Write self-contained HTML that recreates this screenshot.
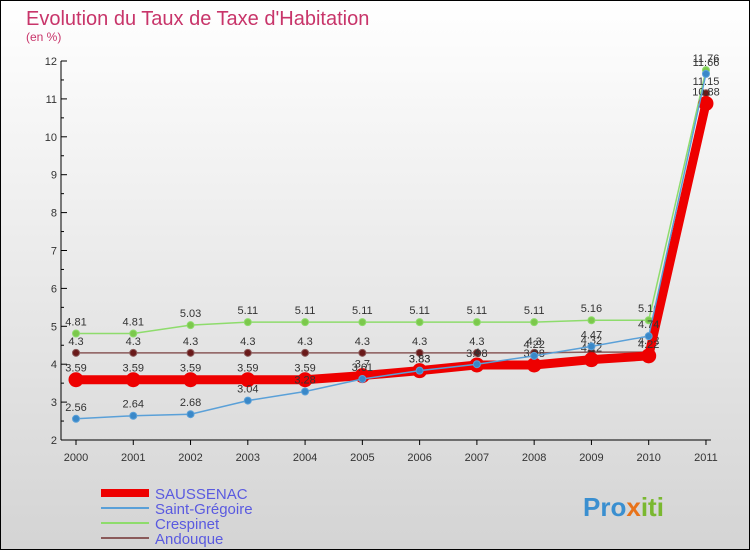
<!DOCTYPE html>
<html><head><meta charset="utf-8"><style>
body{margin:0;width:750px;height:550px;overflow:hidden;font-family:"Liberation Sans",sans-serif}
#wrap{position:relative;width:748px;height:548px;border:1px solid #000;background:linear-gradient(#fff,#d4d4d4)}
</style></head><body>
<div id="wrap">
<svg id="chart" width="748" height="548">
<text x="25" y="24" font-size="20" fill="#c8356a">Evolution du Taux de Taxe d'Habitation</text>
<text x="25" y="40" font-size="12" fill="#c8356a">(en %)</text>
<g id="axes"></g><g id="series"></g><g id="legend"></g>
<text x="582" y="515" font-size="26" font-weight="bold" fill="#3a8fd0">Pro<tspan fill="#e8731a">x</tspan><tspan fill="#7ab830">iti</tspan></text>
</svg></div>
<script>
const years=[2000,2001,2002,2003,2004,2005,2006,2007,2008,2009,2010,2011];
const yTicks=[2,3,4,5,6,7,8,9,10,11,12];
const saussenac=[3.59,3.59,3.59,3.59,3.59,3.7,3.83,3.98,3.98,4.12,4.22,10.88];
const saintGregoire=[2.56,2.64,2.68,3.04,3.28,3.61,3.83,4.0,4.22,4.47,4.74,11.66];
const crespinet=[4.81,4.81,5.03,5.11,5.11,5.11,5.11,5.11,5.11,5.16,5.16,11.76];
const andouque=[4.3,4.3,4.3,4.3,4.3,4.3,4.3,4.3,4.3,4.32,4.32,11.15];
const NS="http://www.w3.org/2000/svg";
const X=i=>75+i*57.27, Y=v=>439-(v-2)*37.9;
function mk(t,a,p){const e=document.createElementNS(NS,t);for(const k in a)e.setAttribute(k,a[k]);p.appendChild(e);return e;}
const ax=document.getElementById('axes');
let l=mk('line',{x1:60,y1:Y(2),x2:60,y2:Y(12),stroke:'#000'},ax);

l=mk('line',{x1:60,y1:Y(2),x2:X(11)+5,y2:Y(2),stroke:'#000'},ax);

yTicks.forEach(v=>{mk('line',{x1:60,y1:Y(v),x2:66,y2:Y(v),stroke:'#000'},ax);
 if(v<12)mk('line',{x1:60,y1:Y(v+0.5),x2:63,y2:Y(v+0.5),stroke:'#000'},ax);
 const t=mk('text',{x:56,y:Y(v)+4,'font-size':11,'text-anchor':'end',fill:'#333'},ax);t.textContent=v;
 });
years.forEach((y,i)=>{mk('line',{x1:X(i),y1:Y(2),x2:X(i),y2:Y(2)+5,stroke:'#000'},ax);
 const t=mk('text',{x:X(i),y:Y(2)+21,'font-size':11,'text-anchor':'middle',fill:'#333'},ax);t.textContent=y;
 });
const sg=document.getElementById('series');
function draw(name,data,color,w,r,mc){
 const g=mk('g',{},sg);
 const p=mk('polyline',{points:data.map((v,i)=>X(i)+','+Y(v)).join(' '),fill:'none',stroke:color,'stroke-width':w},g);
 
 data.forEach((v,i)=>{const c=mk('circle',{cx:X(i),cy:Y(v),r:r,fill:mc,stroke:color,'stroke-width':1},g);
  
  const t=mk('text',{x:X(i),y:Y(v)-8,'font-size':11,'text-anchor':'middle',fill:'#333'},g);t.textContent=v;
  });
}
draw('crespinet',crespinet,'#8edc6c',1.5,3.5,'#7cc84c');
draw('andouque',andouque,'#8a5a5a',1.5,3.5,'#6a1a1a');
draw('saussenac',saussenac,'#ee0000',9,7,'#ee0000');
draw('saint-gregoire',saintGregoire,'#5aa0d8',1.5,3.5,'#3a88c8');
const lg=document.getElementById('legend');
const items=[['SAUSSENAC','#ee0000',8],['Saint-Grégoire','#5aa0d8',2],['Crespinet','#8edc6c',2],['Andouque','#8a5a5a',2]];
items.forEach((it,i)=>{const y=492+i*15;
 const r=mk('line',{x1:100,y1:y,x2:148,y2:y,stroke:it[1],'stroke-width':it[2]},lg);
 
 const t=mk('text',{x:154,y:y+6,'font-size':15,fill:'#5a5ae0'},lg);t.textContent=it[0];
 });
</script></body></html>
